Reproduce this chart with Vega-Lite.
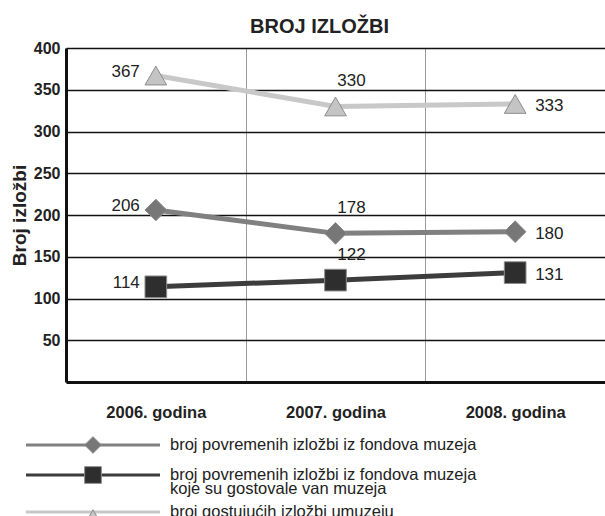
{
  "$schema": "https://vega.github.io/schema/vega-lite/v6.json",
  "width": 539,
  "height": 334,
  "autosize": {"type": "none"},
  "padding": {"left": 66, "top": 48, "right": 0, "bottom": 134},
  "background": "white",
  "title": {
    "text": "BROJ IZLOŽBI",
    "font": "Liberation Sans",
    "fontSize": 20,
    "fontWeight": "bold",
    "color": "#222222",
    "anchor": "middle",
    "dx": -16,
    "offset": 3
  },
  "config": {
    "view": {"stroke": null},
    "font": "Liberation Sans"
  },
  "data": {
    "values": [
      {"year": "2006. godina", "series": "broj povremenih izložbi iz fondova muzeja", "value": 206},
      {"year": "2007. godina", "series": "broj povremenih izložbi iz fondova muzeja", "value": 178},
      {"year": "2008. godina", "series": "broj povremenih izložbi iz fondova muzeja", "value": 180},
      {"year": "2006. godina", "series": "broj povremenih izložbi iz fondova muzeja koje su gostovale van muzeja", "value": 114},
      {"year": "2007. godina", "series": "broj povremenih izložbi iz fondova muzeja koje su gostovale van muzeja", "value": 122},
      {"year": "2008. godina", "series": "broj povremenih izložbi iz fondova muzeja koje su gostovale van muzeja", "value": 131},
      {"year": "2006. godina", "series": "broj gostujućih izložbi umuzeju", "value": 367},
      {"year": "2007. godina", "series": "broj gostujućih izložbi umuzeju", "value": 330},
      {"year": "2008. godina", "series": "broj gostujućih izložbi umuzeju", "value": 333}
    ]
  },
  "encoding": {
    "x": {
      "field": "year",
      "type": "nominal",
      "scale": {"type": "band", "paddingInner": 0, "paddingOuter": 0},
      "axis": {
        "title": null,
        "labelAngle": 0,
        "labelFont": "Liberation Sans",
        "labelFontSize": 16.5,
        "labelFontWeight": "bold",
        "labelColor": "#222222",
        "labelPadding": 22,
        "ticks": false,
        "tickBand": "extent",
        "grid": true,
        "gridColor": "#9a9a9a",
        "gridWidth": 1,
        "domainColor": "#111111",
        "domainWidth": 3
      }
    },
    "y": {
      "field": "value",
      "type": "quantitative",
      "scale": {"domain": [0, 400], "nice": false},
      "axis": {
        "title": "Broj izložbi",
        "titleFont": "Liberation Sans",
        "titleFontSize": 19,
        "titleFontWeight": "bold",
        "titleColor": "#222222",
        "titlePadding": 4,
        "values": [50, 100, 150, 200, 250, 300, 350, 400],
        "labelFont": "Liberation Sans",
        "labelFontSize": 16,
        "labelFontWeight": "bold",
        "labelColor": "#222222",
        "labelPadding": 6,
        "ticks": false,
        "grid": true,
        "gridColor": "#111111",
        "gridWidth": 1.4,
        "domainColor": "#111111",
        "domainWidth": 3
      }
    }
  },
  "layer": [
    {
      "mark": {"type": "line", "strokeWidth": 5},
      "encoding": {
        "stroke": {
          "field": "series",
          "type": "nominal",
          "sort": [
            "broj povremenih izložbi iz fondova muzeja",
            "broj povremenih izložbi iz fondova muzeja koje su gostovale van muzeja",
            "broj gostujućih izložbi umuzeju"
          ],
          "scale": {"range": ["#808080", "#3c3c3c", "#c8c8c8"]},
          "legend": {
            "title": null,
            "orient": "none",
            "legendX": -40,
            "legendY": 382,
            "zindex": 0,
            "symbolType": "M-1.2,0H16.67",
            "symbolSize": 225,
            "symbolStrokeWidth": 3,
            "clipHeight": 30,
            "rowPadding": -3,
            "labelOffset": 126,
            "labelFont": "Liberation Sans",
            "labelFontSize": 16.5,
            "labelColor": "#222222",
            "labelLimit": 400,
            "labelExpr": "datum.label == 'broj povremenih izložbi iz fondova muzeja koje su gostovale van muzeja' ? ['broj povremenih izložbi iz fondova muzeja', 'koje su gostovale van muzeja'] : datum.label",
            "encode": {"labels": {"update": {"lineHeight": {"value": 13.5}}}}
          }
        }
      }
    },
    {
      "mark": {"type": "point", "filled": true, "opacity": 1, "size": 470, "stroke": "#8c8c8c", "strokeWidth": 1},
      "encoding": {
        "color": {
          "field": "series",
          "type": "nominal",
          "scale": {
            "domain": [
              "broj povremenih izložbi iz fondova muzeja",
              "broj povremenih izložbi iz fondova muzeja koje su gostovale van muzeja",
              "broj gostujućih izložbi umuzeju"
            ],
            "range": ["#777777", "#2e2e2e", "#c4c4c4"]
          },
          "legend": {
            "title": null,
            "orient": "none",
            "legendX": 18,
            "legendY": 382,
            "zindex": 1,
            "symbolSize": 280,
            "symbolStrokeColor": "#8c8c8c",
            "symbolStrokeWidth": 1,
            "clipHeight": 30,
            "rowPadding": -3,
            "labelOffset": 67.5,
            "labelOpacity": 0,
            "labelFont": "Liberation Sans",
            "labelFontSize": 16.5,
            "labelLimit": 400,
            "labelExpr": "datum.label == 'broj povremenih izložbi iz fondova muzeja koje su gostovale van muzeja' ? ['broj povremenih izložbi iz fondova muzeja', 'koje su gostovale van muzeja'] : datum.label",
            "encode": {"labels": {"update": {"lineHeight": {"value": 13.5}}}}
          }
        },
        "shape": {
          "field": "series",
          "type": "nominal",
          "scale": {
            "domain": [
              "broj povremenih izložbi iz fondova muzeja",
              "broj povremenih izložbi iz fondova muzeja koje su gostovale van muzeja",
              "broj gostujućih izložbi umuzeju"
            ],
            "range": ["diamond", "square", "triangle-up"]
          },
          "legend": {
            "title": null,
            "orient": "none",
            "legendX": 18,
            "legendY": 382,
            "zindex": 1,
            "symbolSize": 280,
            "symbolStrokeColor": "#8c8c8c",
            "symbolStrokeWidth": 1,
            "clipHeight": 30,
            "rowPadding": -3,
            "labelOffset": 67.5,
            "labelOpacity": 0,
            "labelFont": "Liberation Sans",
            "labelFontSize": 16.5,
            "labelLimit": 400,
            "labelExpr": "datum.label == 'broj povremenih izložbi iz fondova muzeja koje su gostovale van muzeja' ? ['broj povremenih izložbi iz fondova muzeja', 'koje su gostovale van muzeja'] : datum.label",
            "encode": {"labels": {"update": {"lineHeight": {"value": 13.5}}}}
          }
        }
      }
    },
    {
      "transform": [{"filter": "datum.year == '2006. godina'"}],
      "mark": {"type": "text", "align": "right", "baseline": "middle", "dx": -16, "dy": -4, "font": "Liberation Sans", "fontSize": 17, "color": "#222222"},
      "encoding": {"text": {"field": "value", "type": "quantitative"}}
    },
    {
      "transform": [{"filter": "datum.year == '2007. godina'"}],
      "mark": {"type": "text", "align": "center", "baseline": "middle", "dx": 16, "dy": -25, "font": "Liberation Sans", "fontSize": 17, "color": "#222222"},
      "encoding": {"text": {"field": "value", "type": "quantitative"}}
    },
    {
      "transform": [{"filter": "datum.year == '2008. godina'"}],
      "mark": {"type": "text", "align": "left", "baseline": "middle", "dx": 20, "dy": 2, "font": "Liberation Sans", "fontSize": 17, "color": "#222222"},
      "encoding": {"text": {"field": "value", "type": "quantitative"}}
    }
  ]
}
